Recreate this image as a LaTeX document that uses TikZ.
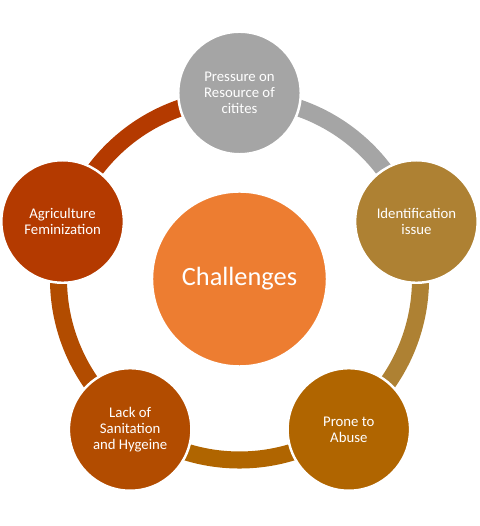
\documentclass[tikz,border=0pt]{standalone}
\usepackage{fontspec}
\setmainfont{Carlito}
\begin{document}
\begin{tikzpicture}[font=\fontsize{8.4}{9.2}\selectfont,ring/.style={draw=#1,line width=9.7pt},bub/.style={circle,fill=#1,draw=white,line width=1.4pt,text=white,align=center,inner sep=0pt,minimum size=2.45cm}]
\definecolor{gy}{HTML}{A5A5A5}\definecolor{gd}{HTML}{AE8133}\definecolor{rb}{HTML}{B06500}\definecolor{lb}{HTML}{B24C00}\definecolor{lf}{HTML}{B43A00}\definecolor{ch}{HTML}{ED7D31}
\useasboundingbox (-4.79,-4.94) rectangle (4.79,5.58);
\node[bub=ch,minimum size=3.5cm,font=\fontsize{15}{18}\selectfont] (chal) at (0,0) {Challenges};
% ring segments, clockwise from the top bubble
\foreach \a/\b/\c in {90/18/gy,18/-54/gd,-54/-126/rb,-126/-198/lb,162/90/lf}{\draw[ring=\c] ([shift={(\a:3.62)}]chal.center) arc[start angle=\a,end angle=\b,radius=3.62];}
\node[bub=gy] (press) at (90:3.72) {Pressure on\\Resource of\\citites};
\node[bub=gd] (ident) at (18:3.72) {Identification\\issue};
\node[bub=rb] (prone) at (-54:3.72) {Prone to\\Abuse};
\node[bub=lb] (lack) at (-126:3.72) {Lack of\\Sanitation\\and Hygeine};
\node[bub=lf] (agri) at (162:3.72) {Agriculture\\Feminization};
\end{tikzpicture}
\end{document}
